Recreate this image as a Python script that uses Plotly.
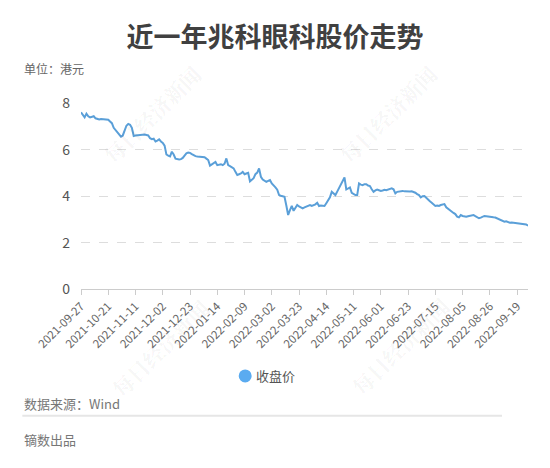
import pandas as pd
import plotly.graph_objects as go

# HK trading calendar for the last year
start_date = "2021-09-27"
end_date = "2022-09-27"
hk_holidays = [
    "2021-10-01", "2021-10-13", "2021-10-14", "2021-12-27",
    "2022-02-01", "2022-02-02", "2022-02-03", "2022-04-05",
    "2022-04-15", "2022-04-18", "2022-05-02", "2022-05-09",
    "2022-06-03", "2022-07-01", "2022-09-12",
]

close_price = [
    7.62, 7.50, 7.40, 7.56, 7.45, 7.40, 7.43, 7.45, 7.36, 7.33,
    7.31, 7.33, 7.33, 7.32, 7.31, 7.30, 7.22, 7.15, 6.95, 6.85,
    6.76, 6.70, 6.57, 6.62, 6.80, 7.04, 7.12, 7.08, 6.95, 6.60,
    6.62, 6.63, 6.62, 6.64, 6.63, 6.66, 6.64, 6.62, 6.50, 6.46,
    6.48, 6.36, 6.40, 6.45, 6.36, 6.30, 6.18, 5.80, 5.75, 5.72,
    5.92, 5.80, 5.62, 5.59, 5.58, 5.60, 5.65, 5.75, 5.85, 5.88,
    5.87, 5.82, 5.76, 5.73, 5.71, 5.70, 5.72, 5.70, 5.68, 5.62,
    5.56, 5.32, 5.38, 5.41, 5.48, 5.34, 5.36, 5.38, 5.34, 5.40,
    5.63, 5.34, 5.30, 5.26, 5.20, 5.05, 4.92, 4.95, 4.98, 5.05,
    4.95, 4.98, 5.01, 4.64, 4.72, 4.78, 4.95, 5.02, 5.20, 4.84,
    4.72, 4.68, 4.62, 4.66, 4.70, 4.55, 4.48, 4.38, 4.28, 4.05,
    4.02, 4.00, 3.98, 3.60, 3.19, 3.40, 3.58, 3.37, 3.48, 3.62,
    3.56, 3.50, 3.48, 3.52, 3.55, 3.58, 3.62, 3.58, 3.60, 3.65,
    3.72, 3.58, 3.60, 3.58, 3.58, 3.70, 3.83, 3.95, 4.19, 4.12,
    4.05, 4.20, 4.34, 4.48, 4.62, 4.81, 4.29, 4.35, 4.38, 4.15,
    4.10, 4.05, 4.05, 4.55, 4.50, 4.48, 4.52, 4.52, 4.46, 4.44,
    4.30, 4.19, 4.25, 4.29, 4.26, 4.23, 4.25, 4.28, 4.26, 4.29,
    4.31, 4.34, 4.30, 4.12, 4.19, 4.21, 4.24, 4.23, 4.21, 4.20,
    4.19, 4.20, 4.21, 4.19, 4.15, 4.09, 4.05, 3.95, 4.00, 4.01,
    3.92, 3.86, 3.78, 3.72, 3.65, 3.58, 3.60, 3.58, 3.62, 3.64,
    3.66, 3.52, 3.45, 3.38, 3.33, 3.28, 3.23, 3.12, 3.09, 3.19,
    3.15, 3.13, 3.12, 3.14, 3.15, 3.17, 3.19, 3.14, 3.10, 3.05,
    3.08, 3.12, 3.15, 3.14, 3.12, 3.12, 3.10, 3.09, 3.08, 3.04,
    3.00, 2.97, 2.93, 2.90, 2.92, 2.88, 2.86, 2.87, 2.86, 2.86,
    2.85, 2.84, 2.83, 2.82, 2.80, 2.78, 2.73,
]

y_ticks = [0, 2, 4, 6, 8]

dates = pd.bdate_range(start_date, end_date, freq="C", holidays=hk_holidays)
dates = [d.strftime("%Y-%m-%d") for d in dates][:len(close_price)]
tick_dates = dates[::15]

FONT = "Noto Sans CJK SC"
LINE_COLOR = "#5a9fd8"

# the page body adds an 8px margin, so the figure is drawn 8px smaller
OFF = 8
W, H = 550 - OFF, 468 - OFF

# plot area in screenshot pixels
L, R, T, B = 80.7, 528.0, 102.8, 289.0
Y_MAX = 8.02


def px_x(x):
    return (x - L) / (R - L)


def px_y(y):
    return (B - y) / (B - T)


fig = go.Figure()

fig.add_trace(go.Scatter(
    x=dates,
    y=close_price,
    mode="lines",
    line=dict(color=LINE_COLOR, width=2),
    name="收盘价",
    showlegend=False
))

annotations = [
    dict(text="单位：港元", x=px_x(22), y=px_y(68), xanchor="left",
         yanchor="middle", font=dict(size=12, color="#666666")),
    dict(text="收盘价", x=px_x(254), y=px_y(376), xanchor="left",
         yanchor="middle", font=dict(size=13, color="#555555")),
    dict(text="数据来源：Wind", x=px_x(22), y=px_y(404), xanchor="left",
         yanchor="middle", font=dict(size=13, color="#777777")),
    dict(text="镝数出品", x=px_x(22), y=px_y(440), xanchor="left",
         yanchor="middle", font=dict(size=13, color="#777777")),
]

for wx, wy in [(152, 114), (388, 114), (160, 348), (400, 346)]:
    annotations.append(dict(
        text="<b>每日经济新闻</b>", x=px_x(wx), y=px_y(wy),
        xanchor="center", yanchor="middle", textangle=-45,
        font=dict(size=21, color="rgba(0,0,0,0.05)", family="Noto Serif CJK SC, " + FONT)
    ))

for a in annotations:
    a.update(xref="paper", yref="paper", showarrow=False)

shapes = [
    dict(type="line", xref="paper", yref="paper",
         x0=px_x(22), x1=px_x(502), y0=px_y(416), y1=px_y(416),
         line=dict(color="#e6e6e6", width=2)),
    # legend dot
    dict(type="circle", xref="paper", yref="paper",
         xsizemode="pixel", ysizemode="pixel",
         xanchor=px_x(245), yanchor=px_y(376),
         x0=-6.5, x1=6.5, y0=-6.5, y1=6.5,
         fillcolor="#5aabf0", line=dict(width=0)),
]

fig.update_layout(
    width=W,
    height=H,
    margin=dict(l=L - OFF, r=550 - R, t=T - OFF, b=468 - B),
    paper_bgcolor="white",
    plot_bgcolor="white",
    font=dict(family=FONT, color="#666666"),
    showlegend=False,
    title=dict(
        text="<b>近一年兆科眼科股价走势</b>",
        x=(275 - OFF) / W,
        xref="container",
        y=1 - (38 - OFF) / H,
        yref="container",
        xanchor="center",
        yanchor="middle",
        font=dict(size=27, color="#404040", family=FONT)
    ),
    xaxis=dict(
        type="category",
        range=[0, len(dates) - 1],
        tickmode="array",
        tickvals=tick_dates,
        ticktext=tick_dates,
        tickangle=-45,
        ticks="outside",
        ticklen=5,
        tickcolor="#cccccc",
        showline=True,
        linecolor="#cccccc",
        linewidth=1,
        showgrid=False,
        tickfont=dict(size=11.5, color="#666666")
    ),
    yaxis=dict(
        range=[0, Y_MAX],
        tickvals=y_ticks,
        showgrid=True,
        gridcolor="#dddddd",
        griddash="dash",
        zeroline=False,
        showline=False,
        ticks="",
        ticklabelstandoff=10,
        tickfont=dict(size=14, color="#555555")
    ),
    annotations=annotations,
    shapes=shapes
)

fig.write_html("out.html")
